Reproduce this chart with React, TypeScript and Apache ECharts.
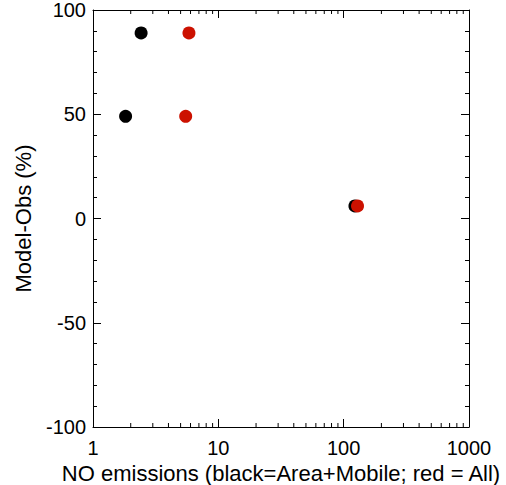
import React, { useEffect, useRef } from "react";
import * as echarts from "echarts";

const blackPoints: [number, number][] = [
  [2.42, 89],
  [1.82, 49],
  [123, 6],
];
const redPoints: [number, number][] = [
  [5.83, 89],
  [5.49, 49],
  [129, 6],
];
const xMinorTicks = [2, 3, 4, 5, 6, 7, 8, 9, 20, 30, 40, 50, 60, 70, 80, 90, 200, 300, 400, 500, 600, 700, 800, 900];
const xTitle = "NO emissions (black=Area+Mobile; red = All)";
const yTitle = "Model-Obs (%)";

export default function App() {
  const ref = useRef<HTMLDivElement>(null);
  useEffect(() => {
    const chart = echarts.init(ref.current!, null, { renderer: "svg" });
    const font = "Liberation Sans, Arial, sans-serif";
    const axisLine = { show: true, onZero: false, lineStyle: { color: "#000", width: 1 } };
    const tick = { show: true, inside: true, length: 8, lineStyle: { color: "#000" } };
    chart.setOption({
      animation: false,
      backgroundColor: "#fff",
      grid: { left: 93, right: 37, top: 10, bottom: 58, outerBoundsMode: "none", containLabel: false },
      xAxis: [
        {
          type: "log",
          min: 1,
          max: 1000,
          logBase: 10,
          position: "bottom",
          axisLine,
          axisTick: tick,
          axisLabel: {
            color: "#000",
            fontSize: 20,
            fontFamily: font,
            margin: 11,
            formatter: (v: number) => String(Math.round(v)),
          },
          splitLine: { show: false },
          name: xTitle,
          nameLocation: "middle",
          nameGap: 34,
          nameTextStyle: { color: "#000", fontSize: 22, fontFamily: font },
        },
        {
          type: "log",
          min: 1,
          max: 1000,
          logBase: 10,
          position: "top",
          axisLine,
          axisTick: tick,
          axisLabel: { show: false },
          splitLine: { show: false },
        },
      ],
      yAxis: [
        {
          type: "value",
          min: -100,
          max: 100,
          interval: 50,
          position: "left",
          axisLine,
          axisTick: tick,
          minorTick: { show: true, splitNumber: 5, length: 4, lineStyle: { color: "#000" } },
          axisLabel: { color: "#000", fontSize: 20, fontFamily: font, margin: 7 },
          splitLine: { show: false },
          minorSplitLine: { show: false },
          name: yTitle,
          nameLocation: "middle",
          nameGap: 59,
          nameRotate: 90,
          nameTextStyle: { color: "#000", fontSize: 22, fontFamily: font },
        },
        {
          type: "value",
          min: -100,
          max: 100,
          interval: 50,
          position: "right",
          axisLine,
          axisTick: tick,
          minorTick: { show: true, splitNumber: 5, length: 4, lineStyle: { color: "#000" } },
          axisLabel: { show: false },
          splitLine: { show: false },
        },
      ],
      series: [
        {
          type: "custom",
          xAxisIndex: 0,
          yAxisIndex: 0,
          silent: true,
          data: xMinorTicks.map((v) => [v, 0]),
          renderItem: (params: any, api: any) => {
            const v = api.value(0);
            const b = api.coord([v, -100]);
            const t = api.coord([v, 100]);
            const st = { stroke: "#000", lineWidth: 1 };
            return {
              type: "group",
              children: [
                { type: "line", shape: { x1: b[0], y1: b[1], x2: b[0], y2: b[1] - 4 }, style: st },
                { type: "line", shape: { x1: t[0], y1: t[1], x2: t[0], y2: t[1] + 4 }, style: st },
              ],
            };
          },
        },
        {
          type: "scatter",
          xAxisIndex: 0,
          yAxisIndex: 0,
          data: blackPoints,
          symbolSize: 13,
          itemStyle: { color: "#000", opacity: 1 },
          z: 3,
        },
        {
          type: "scatter",
          xAxisIndex: 0,
          yAxisIndex: 0,
          data: redPoints,
          symbolSize: 13,
          itemStyle: { color: "#cc1100", opacity: 1 },
          z: 4,
        },
      ],
    });
    return () => chart.dispose();
  }, []);
  return <div ref={ref} style={{ position: "absolute", left: 0, top: 0, width: 506, height: 485 }} />;
}
